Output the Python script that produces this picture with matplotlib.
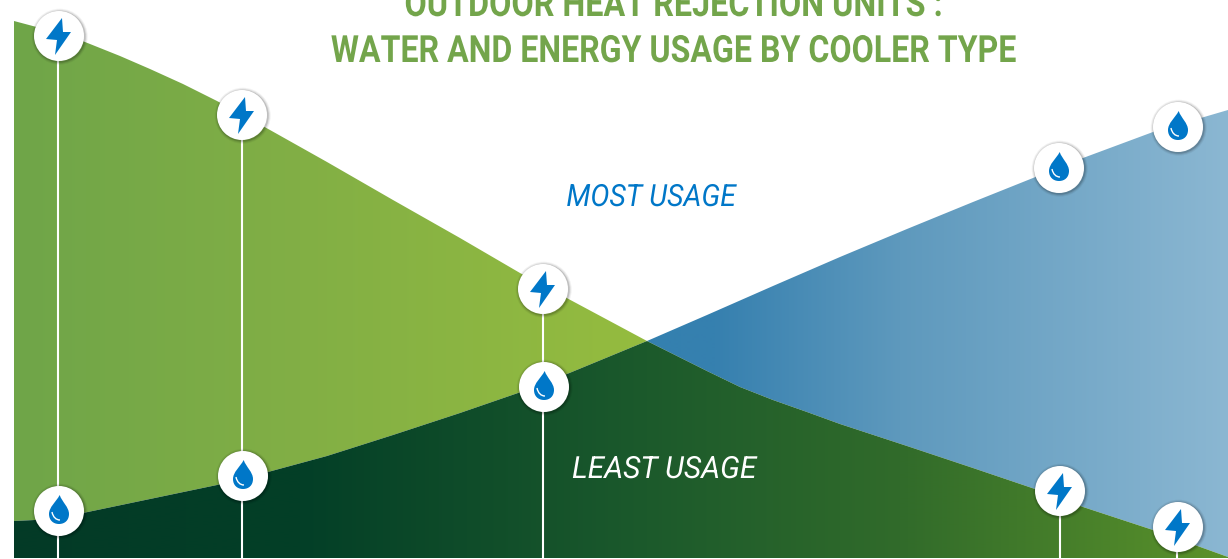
import numpy as np
import matplotlib
matplotlib.use("Agg")
import matplotlib.pyplot as plt
from matplotlib.patches import Circle, PathPatch, Polygon
from matplotlib.path import Path
from matplotlib.patheffects import AbstractPathEffect
from matplotlib.transforms import Affine2D

energy_x = [14, 59, 85, 120, 150, 183, 217, 270, 327, 393, 460, 520, 647,
            673, 707, 740, 773, 807, 840, 907, 973, 1035, 1083, 1153, 1228]
energy_y = [21, 33, 42, 56, 69, 84, 101, 130, 162, 200, 238, 273, 341,
            354, 371, 387, 400, 412, 424, 446, 468, 489, 507, 530, 557]
water_x = [14, 35, 83, 150, 217, 268, 327, 393, 460, 518, 567, 647,
           707, 773, 840, 907, 973, 1033, 1083, 1153, 1228]
water_y = [521, 520, 513, 499, 485, 472, 456, 435, 413, 393, 374, 341,
           315, 286, 257, 229, 202, 178, 158, 132, 110]

stem_x = [58, 242, 543, 1060, 1177]
bolt_x = [59, 242, 543, 1060, 1178]
bolt_y = [36, 115, 289, 491, 527]
drop_x = [59, 243, 544, 1059, 1178]
drop_y = [511, 476, 387, 168, 127]

title_lines = ["OUTDOOR HEAT REJECTION UNITS :", "WATER AND ENERGY USAGE BY COOLER TYPE"]
most_label = "MOST USAGE"
least_label = "LEAST USAGE"

W, H = 1228, 559
LEFT, CROSS, BOTTOM = 14, 647, 558
BLUE = "#0077C8"


class SqueezeX(AbstractPathEffect):
    """narrows a text around cx, no condensed font is installed"""

    def __init__(self, cx, sx):
        super().__init__()
        self.squeeze = Affine2D().translate(-cx, 0).scale(sx, 1).translate(cx, 0)

    def draw_path(self, renderer, gc, tpath, affine, rgbFace=None):
        renderer.draw_path(gc, tpath, affine + self.squeeze, rgbFace)


def gradient_fill(ax, xs, ys, stops):
    """fill a polygon with a left to right gradient given as (x, colour) stops"""
    poly = Polygon(np.column_stack([xs, ys]), closed=True, transform=ax.transData,
                   facecolor="none", edgecolor="none")
    ax.add_patch(poly)
    x0, x1 = min(xs), max(xs)
    grid = np.arange(x0, x1 + 1)
    px = [s[0] for s in stops]
    rgb = np.array([matplotlib.colors.to_rgb(s[1]) for s in stops])
    row = np.stack([np.interp(grid, px, rgb[:, i]) for i in range(3)], axis=-1)
    im = ax.imshow(row[np.newaxis, :, :], extent=(x0, x1, max(ys), min(ys)),
                   aspect="auto", zorder=1, interpolation="bilinear")
    im.set_clip_path(poly)


def draw_badge(ax, cx, cy, r=25):
    # soft shadow, then the white disc
    for grow, alpha in [(3.0, 0.05), (2.0, 0.08), (1.0, 0.14)]:
        ax.add_patch(Circle((cx + 0.7, cy + 0.7), r + grow, fc="black", ec="none",
                            alpha=alpha, zorder=4))
    ax.add_patch(Circle((cx, cy), r, fc="white", ec="none", zorder=5))


def draw_bolt(ax, cx, cy):
    dx = [3, -13, -2, -4, 12, 4]
    dy = [-18, 3, 4, 19, -4, -4]
    pts = [(cx + a, cy + b) for a, b in zip(dx, dy)]
    ax.add_patch(Polygon(pts, closed=True, fc=BLUE, ec="none", zorder=6))


def draw_drop(ax, cx, cy):
    rel = [(0.7, -16), (-3, -9), (-10, -4), (-10, 3),
           (-10, 9), (-6, 13), (0, 13),
           (6, 13), (10, 9), (10, 3),
           (10, -4), (3, -9), (0.7, -16), (0.7, -16)]
    codes = [Path.MOVETO] + [Path.CURVE4] * 12 + [Path.CLOSEPOLY]
    verts = [(cx + a, cy + b) for a, b in rel]
    ax.add_patch(PathPatch(Path(verts, codes), fc=BLUE, ec="none", zorder=6))
    # little highlight at the lower left
    hx = [cx - 7, cx - 6, cx - 3, cx + 1]
    hy = [cy + 1, cy + 6, cy + 9, cy + 9]
    hl = Path(list(zip(hx, hy)), [Path.MOVETO, Path.CURVE4, Path.CURVE4, Path.CURVE4])
    ax.add_patch(PathPatch(hl, fc="none", ec="white", lw=1.0, zorder=7))


fig = plt.figure(figsize=(W / 100, H / 100), dpi=100)
ax = fig.add_axes([0, 0, 1, 1])
ax.set_xlim(0, W)
ax.set_ylim(H, 0)
ax.axis("off")

# split both curves at the crossing
e_left = [(x, y) for x, y in zip(energy_x, energy_y) if x <= CROSS]
e_right = [(x, y) for x, y in zip(energy_x, energy_y) if x >= CROSS]
w_left = [(x, y) for x, y in zip(water_x, water_y) if x <= CROSS]
w_right = [(x, y) for x, y in zip(water_x, water_y) if x >= CROSS]

# green wedge: under energy, above water
pts = e_left + w_left[::-1]
gradient_fill(ax, [p[0] for p in pts], [p[1] for p in pts],
              [(14, "#6FA549"), (300, "#82AF45"), (647, "#95BC3F")])

# blue wedge: under water, above energy
pts = w_right + e_right[::-1]
gradient_fill(ax, [p[0] for p in pts], [p[1] for p in pts],
              [(647, "#3480AF"), (715, "#3680AF"), (900, "#5E99BD"), (1228, "#8BB7D2")])

# dark overlap at the bottom
pts = w_left + e_right[1:] + [(W, BOTTOM), (LEFT, BOTTOM)]
gradient_fill(ax, [p[0] for p in pts], [p[1] for p in pts],
              [(14, "#033A26"), (300, "#033F27"), (647, "#1C5A2C"), (900, "#316B2A"), (1228, "#5B922A")])

for x, top in zip(stem_x, bolt_y):
    ax.plot([x, x], [top, H], color="white", lw=1.5, solid_capstyle="butt", zorder=3)

for cx, cy in zip(bolt_x, bolt_y):
    draw_badge(ax, cx, cy)
    draw_bolt(ax, cx, cy)
for cx, cy in zip(drop_x, drop_y):
    draw_badge(ax, cx, cy)
    draw_drop(ax, cx, cy)

title_font = dict(family="Roboto", fontweight="bold", color="#73A54B",
                  ha="center", va="baseline", fontsize=27)
ax.text(674, 16, title_lines[0], path_effects=[SqueezeX(674, 0.862)], **title_font)
ax.text(674, 62, title_lines[1], path_effects=[SqueezeX(674, 0.857)], **title_font)

label_font = dict(family="Roboto", fontstyle="italic",
                  ha="center", va="baseline", fontsize=22)
ax.text(651, 206, most_label, color=BLUE, path_effects=[SqueezeX(651, 0.93)], **label_font)
ax.text(664, 478, least_label, color="white", path_effects=[SqueezeX(664, 0.98)], **label_font)

fig.savefig("out.png", dpi=100)
